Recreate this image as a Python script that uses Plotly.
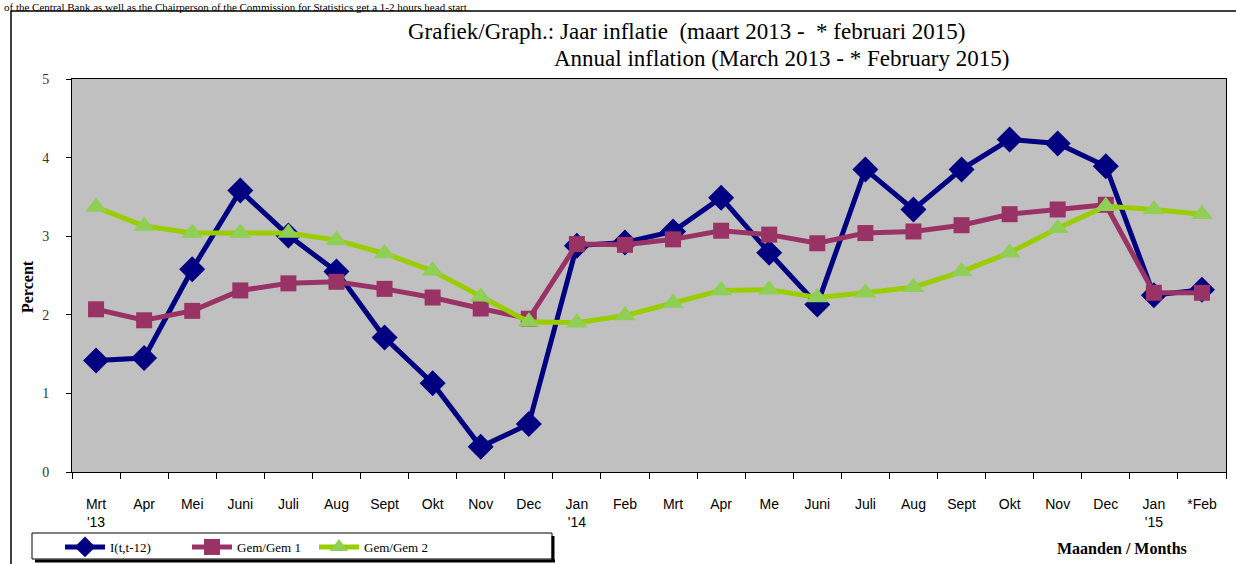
import plotly.graph_objects as go

months = ["Mrt<br>'13", "Apr", "Mei", "Juni", "Juli", "Aug", "Sept", "Okt", "Nov", "Dec",
          "Jan<br>'14", "Feb", "Mrt", "Apr", "Me", "Juni", "Juli", "Aug", "Sept", "Okt",
          "Nov", "Dec", "Jan<br>'15", "*Feb"]

infl_i = [1.42, 1.45, 2.58, 3.58, 3.01, 2.55, 1.71, 1.13, 0.32, 0.61,
          2.88, 2.92, 3.06, 3.49, 2.79, 2.13, 3.85, 3.34, 3.85, 4.23,
          4.18, 3.89, 2.25, 2.32]
gem1 = [2.07, 1.93, 2.05, 2.31, 2.40, 2.42, 2.33, 2.22, 2.08, 1.95,
        2.90, 2.89, 2.96, 3.07, 3.02, 2.91, 3.04, 3.06, 3.14, 3.28,
        3.34, 3.40, 2.28, 2.28]
gem2 = [3.37, 3.13, 3.04, 3.04, 3.04, 2.95, 2.78, 2.56, 2.23, 1.91,
        1.90, 1.99, 2.15, 2.31, 2.32, 2.22, 2.28, 2.35, 2.55, 2.79,
        3.10, 3.38, 3.34, 3.28]

series_names = ["I(t,t-12)", "Gem/Gem 1", "Gem/Gem 2"]
y_ticks = [0, 1, 2, 3, 4, 5]

W, H = 1236, 564
L, R, T, B = 72, 1226, 79, 472


def px(x):
    return (x - L) / (R - L)


def py(y):
    return (B - y) / (B - T)


xs = list(range(len(months)))

fig = go.Figure()
fig.add_trace(go.Scatter(
    x=xs, y=infl_i, name=series_names[0], mode="lines+markers",
    line=dict(color="#000080", width=5),
    marker=dict(symbol="diamond", size=20, color="#000080"),
))
fig.add_trace(go.Scatter(
    x=xs, y=gem1, name=series_names[1], mode="lines+markers",
    line=dict(color="#993366", width=5),
    marker=dict(symbol="square", size=16, color="#993366"),
))
fig.add_trace(go.Scatter(
    x=xs, y=gem2, name=series_names[2], mode="lines+markers",
    line=dict(color="#9ACD00", width=5),
    marker=dict(symbol="triangle-up", size=19, color="#8FCF55"),
))

serif = "Liberation Serif, Times New Roman, serif"
sans = "Liberation Sans, Arial, sans-serif"

fig.update_layout(
    width=W, height=H,
    margin=dict(l=L, r=W - R, t=T, b=H - B, pad=0, autoexpand=False),
    paper_bgcolor="white",
    plot_bgcolor="#C0C0C0",
    showlegend=True,
    legend=dict(
        orientation="h", x=px(60), y=py(532), xanchor="left", yanchor="top",
        bgcolor="rgba(0,0,0,0)", borderwidth=0,
        font=dict(family=serif, size=13, color="black"),
        entrywidth=72, itemwidth=40, tracegroupgap=0,
    ),
    xaxis=dict(
        range=[-0.5, len(months) - 0.5],
        tickmode="array", tickvals=xs, ticktext=months,
        ticks="", showgrid=False, zeroline=False,
        showline=True, linecolor="black", linewidth=1, mirror=True,
        tickfont=dict(family=sans, size=14, color="black"),
        ticklabelstandoff=19,
        minor=dict(tickmode="array", tickvals=[i - 0.5 for i in range(len(months) + 1)],
                   ticks="outside", ticklen=6, tickcolor="black", tickwidth=1, showgrid=False),
    ),
    yaxis=dict(
        range=[0, 5], tickmode="array", tickvals=y_ticks,
        ticks="outside", ticklen=5, tickcolor="black",
        showgrid=False, zeroline=False,
        showline=True, linecolor="black", linewidth=1, mirror=True,
        tickfont=dict(family=serif, size=14, color="#333333"),
        ticklabelstandoff=14,
    ),
)

annotations = [
    dict(text="of the Central Bank as well as the Chairperson of the Commission for Statistics get a 1-2 hours head start",
         x=px(2), y=py(-1), xanchor="left", yanchor="top",
         font=dict(family=serif, size=11, color="black")),
    dict(text="Grafiek/Graph.: Jaar inflatie  (maart 2013 -  * februari 2015)",
         x=px(687), y=py(32), xanchor="center", yanchor="middle",
         font=dict(family=serif, size=23, color="black")),
    dict(text="Annual inflation (March 2013 - * February 2015)",
         x=px(781), y=py(58), xanchor="center", yanchor="middle",
         font=dict(family=serif, size=23, color="black")),
    dict(text="<b>Percent</b>", textangle=-90,
         x=px(27), y=py(287), xanchor="center", yanchor="middle",
         font=dict(family=serif, size=16, color="black")),
    dict(text="<b>Maanden / Months</b>",
         x=px(1122), y=py(548), xanchor="center", yanchor="middle",
         font=dict(family=serif, size=16, color="black")),
]
for a in annotations:
    a.update(xref="paper", yref="paper", showarrow=False)
fig.update_layout(annotations=annotations)

shapes = [
    dict(type="line", x0=px(11), x1=px(1240), y0=py(11), y1=py(11),
         line=dict(color="black", width=1.5)),
    dict(type="line", x0=px(11), x1=px(11), y0=py(11), y1=py(570),
         line=dict(color="black", width=1.5)),
    # legend frame with shadow
    dict(type="line", x0=px(35), x1=px(555), y0=py(561), y1=py(561),
         line=dict(color="black", width=3)),
    dict(type="line", x0=px(553), x1=px(553), y0=py(536), y1=py(561),
         line=dict(color="black", width=3)),
    dict(type="rect", x0=px(32), x1=px(552), y0=py(533), y1=py(559),
         line=dict(color="black", width=1), fillcolor="rgba(0,0,0,0)"),
]
for s in shapes:
    s.update(xref="paper", yref="paper", layer="above")
fig.update_layout(shapes=shapes)

fig.write_html(
    "out.html",
    config={"displayModeBar": False},
    post_script="document.body.style.margin='0';document.body.style.overflow='hidden';",
)
